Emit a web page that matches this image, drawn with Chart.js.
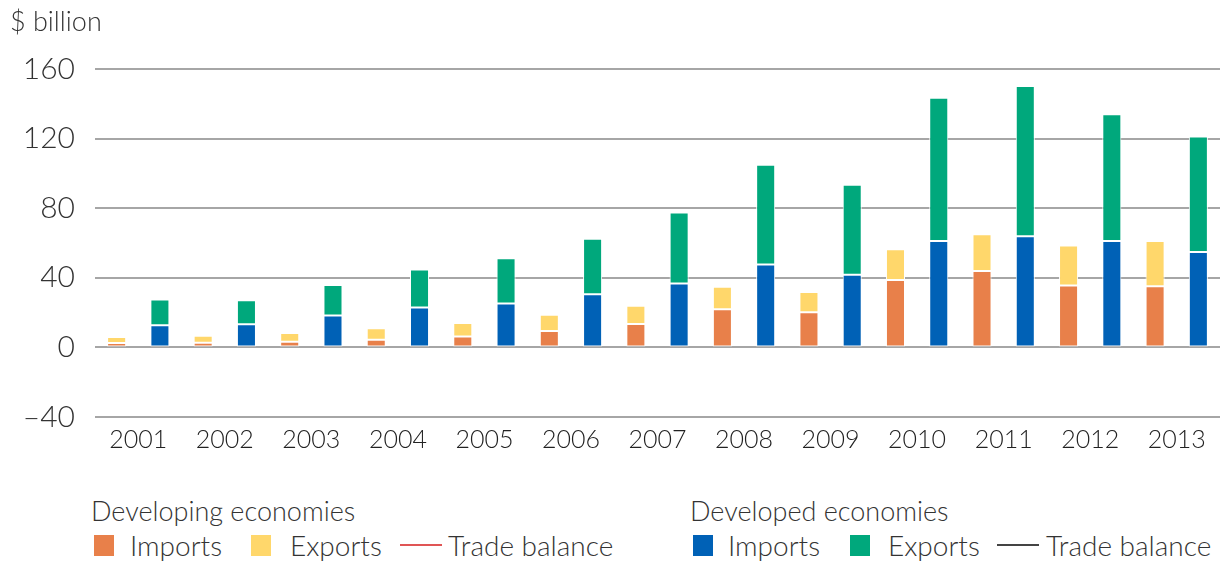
<!DOCTYPE html>
<html>
<head>
<meta charset="utf-8">
<script src="https://cdn.jsdelivr.net/npm/chart.js@4"></script>
<style>
  body { margin: 0; background: #fff; font-family: Lato, "Noto Sans", sans-serif; font-weight: 300; color: #333; }
  #wrap { position: relative; width: 1225px; height: 564px; }
  .chart-box { position: absolute; left: 0; top: 0; width: 1225px; height: 470px; }
  .unit { position: absolute; left: 10px; top: 4px; font-size: 27px; }
  .head { position: absolute; font-size: 27px; top: 494px; }
  .item { position: absolute; top: 530px; font-size: 28px; line-height: 30px; white-space: nowrap; }
  .sw { position: absolute; top: 535px; width: 20px; height: 21px; }
  .ln { position: absolute; top: 544px; height: 2px; width: 42px; }
</style>
</head>
<body>
<div id="wrap">
  <div class="chart-box"><canvas id="c"></canvas></div>
  <div class="unit">$ billion</div>

  <div class="head" style="left:91px">Developing economies</div>
  <div class="sw" style="left:94px;background:#E8804A"></div>
  <div class="item" style="left:130px">Imports</div>
  <div class="sw" style="left:251px;background:#FFD76B"></div>
  <div class="item" style="left:290px">Exports</div>
  <div class="ln" style="left:400px;background:#E05555"></div>
  <div class="item" style="left:448px">Trade balance</div>

  <div class="head" style="left:690px">Developed economies</div>
  <div class="sw" style="left:693px;background:#0061B6"></div>
  <div class="item" style="left:728px">Imports</div>
  <div class="sw" style="left:850px;background:#00A87C"></div>
  <div class="item" style="left:888px">Exports</div>
  <div class="ln" style="left:997px;background:#444"></div>
  <div class="item" style="left:1046px">Trade balance</div>
</div>
<script>
const years = ["2001","2002","2003","2004","2005","2006","2007","2008","2009","2010","2011","2012","2013"];
const developingImports = [2.5, 2.7, 3.3, 4.4, 6.3, 9.4, 13.5, 21.9, 20.2, 38.8, 43.9, 35.6, 35.2];
const developingExports = [3.5, 4.0, 5.0, 6.6, 7.7, 9.3, 10.5, 12.9, 11.7, 17.6, 21.1, 22.9, 26.0];
const developedImports = [12.7, 13.3, 18.3, 22.9, 25.2, 30.6, 36.7, 47.7, 41.7, 61.2, 63.9, 61.2, 54.8];
const developedExports = [14.8, 13.8, 17.5, 21.9, 26.0, 31.9, 40.8, 57.3, 51.8, 82.3, 86.3, 72.8, 66.4];

function bars(label, data, color, stack) {
  return {
    label: label,
    data: data,
    stack: stack,
    backgroundColor: color,
    borderColor: "#ffffff",
    borderWidth: 1,
    borderSkipped: false,
    categoryPercentage: 1.0,
    barPercentage: 0.44,
  };
}

new Chart(document.getElementById("c"), {
  type: "bar",
  data: {
    labels: years,
    datasets: [
      bars("Developing imports", developingImports, "#E8804A", "developing"),
      bars("Developing exports", developingExports, "#FFD76B", "developing"),
      bars("Developed imports", developedImports, "#0061B6", "developed"),
      bars("Developed exports", developedExports, "#00A87C", "developed"),
    ],
  },
  options: {
    responsive: true,
    maintainAspectRatio: false,
    animation: false,
    layout: { padding: { top: 69, right: 5, bottom: 15, left: 0 } },
    plugins: { legend: { display: false }, tooltip: { enabled: false } },
    scales: {
      x: {
        stacked: true,
        grid: { display: false },
        border: { display: false },
        ticks: { color: "#222", padding: 0, font: { family: "Lato", size: 25, weight: 300 } },
      },
      y: {
        stacked: true,
        min: -40,
        max: 160,
        afterFit: (s) => { s.width = 95; },
        grid: { color: "#a6a6a6", lineWidth: 2, drawTicks: false },
        border: { display: false },
        ticks: {
          stepSize: 40,
          padding: 20,
          color: "#333",
          font: { family: "Lato", size: 30, weight: 300 },
          callback: (v) => (v < 0 ? "\u2013" + Math.abs(v) : v),
        },
      },
    },
  },
});
</script>
</body>
</html>
